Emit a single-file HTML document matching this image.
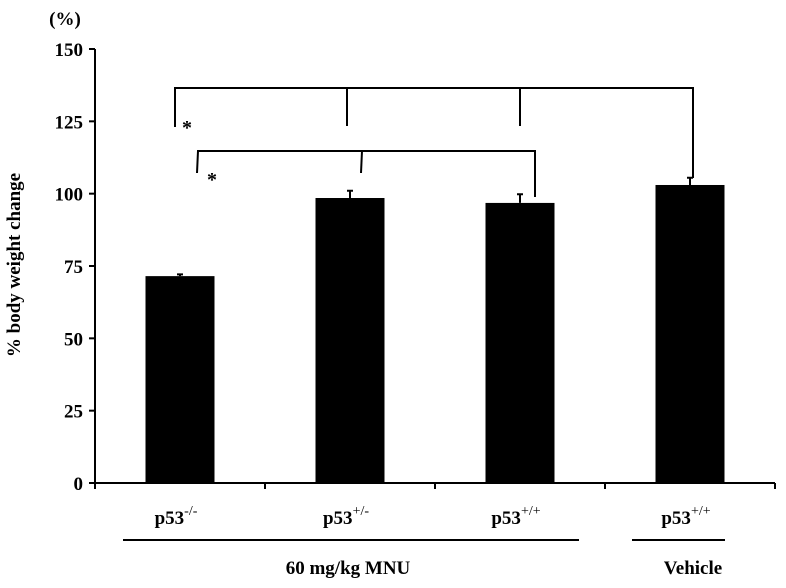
<!DOCTYPE html>
<html><head><meta charset="utf-8"><style>
html,body{margin:0;padding:0;background:#fff;}
svg{display:block;font-family:"Liberation Serif",serif;font-weight:bold;}
</style></head><body>
<svg id="chart" width="786" height="588">
<g id="axes"></g><g id="bars"></g>
<g stroke="#000" stroke-width="2" fill="none">
<polyline points="175,127 175,88 693,88 693,178"/>
<line x1="347" y1="88" x2="347" y2="126"/>
<line x1="520" y1="88" x2="520" y2="126"/>
<polyline points="197,173 198,151 535,151 535,197"/>
<line x1="362" y1="151" x2="361" y2="173"/>
</g>
<text x="187" y="134" font-size="20" text-anchor="middle">*</text>
<text x="212" y="186" font-size="20" text-anchor="middle">*</text>
<text x="65" y="25" font-size="19" text-anchor="middle">(%)</text>
<text transform="translate(20,265) rotate(-90)" font-size="19" text-anchor="middle">% body weight change</text>
<line x1="123" y1="540" x2="579" y2="540" stroke="#000" stroke-width="2"/>
<line x1="632" y1="540" x2="725" y2="540" stroke="#000" stroke-width="2"/>
<text x="348" y="574" font-size="19" text-anchor="middle">60 mg/kg MNU</text>
<text x="693" y="574" font-size="19" text-anchor="middle">Vehicle</text>
</svg>
<script>
const categories = ["-/-", "+/-", "+/+", "+/+"];
const values = [71.5, 98.5, 96.8, 103];
const errors = [0.6, 2.5, 3.0, 2.5];
const yTicks = [0, 25, 50, 75, 100, 125, 150];
const NS = "http://www.w3.org/2000/svg";
const x0 = 95, x1 = 775, yBase = 483, yTop = 49;
const y = v => yBase - (v / 150) * (yBase - yTop);
const band = (x1 - x0) / categories.length;
const xc = i => x0 + band * (i + 0.5);
function mk(tag, attrs, parent) { const e = document.createElementNS(NS, tag); for (const k in attrs) e.setAttribute(k, attrs[k]); parent.appendChild(e); return e; }
const axes = document.getElementById("axes"), bars = document.getElementById("bars");
let a = mk("line", {x1: x0, y1: yTop, x2: x0, y2: yBase, stroke: "#000", "stroke-width": 2}, axes);


a = mk("line", {x1: x0, y1: yBase, x2: x1, y2: yBase, stroke: "#000", "stroke-width": 2}, axes);


yTicks.forEach(t => {
  const tk = mk("line", {x1: x0 - 6, y1: y(t), x2: x0, y2: y(t), stroke: "#000", "stroke-width": 2}, axes);
  
  
  const tl = mk("text", {x: x0 - 12, y: y(t) + 7, "font-size": 19, "text-anchor": "end"}, axes);
  tl.textContent = t;
  
  
});
for (let i = 0; i <= categories.length; i++) {
  const tk = mk("line", {x1: x0 + band * i, y1: yBase, x2: x0 + band * i, y2: yBase + 6, stroke: "#000", "stroke-width": 2}, axes);
  
  
}
const bw = 69;
categories.forEach((c, i) => {
  const cx = xc(i);
  const r = mk("rect", {x: cx - bw / 2, y: y(values[i]), width: bw, height: yBase - y(values[i]), fill: "#000"}, bars);
  
  
  const eb = mk("path", {d: `M${cx},${y(values[i])} V${y(values[i] + errors[i])} M${cx - 3},${y(values[i] + errors[i])} H${cx + 3}`, stroke: "#000", "stroke-width": 2, fill: "none"}, bars);
  
  
  const t = mk("text", {x: cx - 4, y: 524, "font-size": 19, "text-anchor": "middle"}, bars);
  t.appendChild(document.createTextNode("p53"));
  const s = document.createElementNS(NS, "tspan");
  s.setAttribute("dy", -9); s.setAttribute("font-size", 14); s.setAttribute("font-weight", "normal");
  s.textContent = c; t.appendChild(s);
  
  
});
</script>
</body></html>
